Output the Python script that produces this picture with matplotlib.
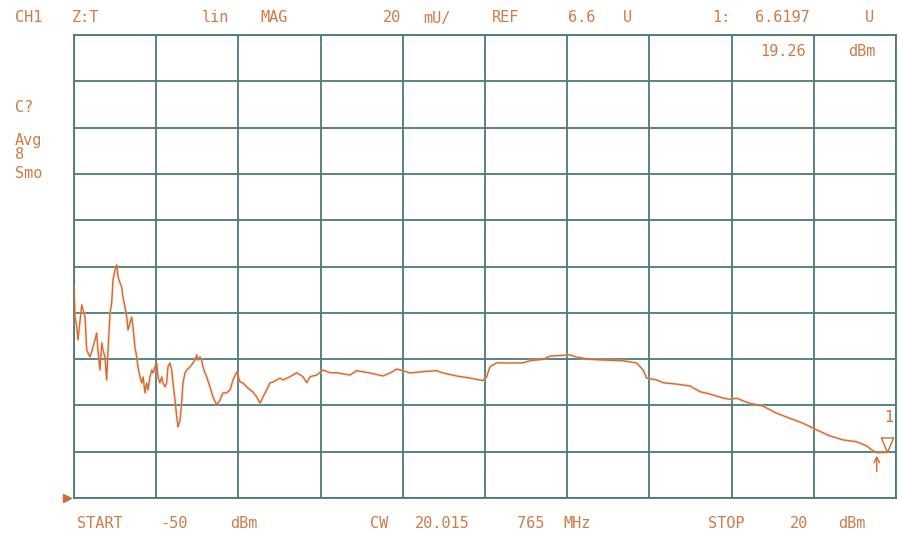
import matplotlib
matplotlib.use("Agg")
import matplotlib.pyplot as plt
from matplotlib import transforms

# CH1 swept-power trace: input power (dBm) vs linear magnitude (U)
power_dbm = [
    -50.00, -49.91, -49.77, -49.66, -49.34, -49.23, -49.06, -48.92, -48.64, -48.38,
    -48.21, -48.07, -47.96, -47.79, -47.64, -47.53, -47.36, -47.22, -47.10, -46.93,
    -46.79, -46.68, -46.51, -46.36, -46.25, -46.08, -45.94, -45.83, -45.66, -45.51,
    -45.40, -45.23, -45.09, -44.98, -44.81, -44.66, -44.55, -44.38, -44.23, -44.12,
    -43.95, -43.81, -43.70, -43.53, -43.38, -43.27, -43.10, -42.96, -42.85, -42.68,
    -42.53, -42.42, -42.25, -42.11, -42.00, -41.83, -41.68, -41.57, -41.40, -41.25,
    -41.14, -40.97, -40.83, -40.72, -40.55, -40.40, -40.12, -39.87, -39.70, -39.55,
    -39.44, -39.27, -39.13, -39.01, -38.84, -38.70, -38.42, -38.16, -37.85, -37.57,
    -37.31, -37.00, -36.71, -36.46, -36.14, -35.86, -35.61, -35.29, -35.01, -34.76,
    -34.44, -34.16, -33.91, -33.59, -33.31, -33.05, -32.74, -32.46, -32.20, -31.61,
    -31.03, -30.50, -30.18, -29.90, -29.33, -28.80, -28.20, -27.63, -26.50, -25.93,
    -24.79, -23.69, -23.09, -22.52, -21.98, -21.39, -20.28, -19.11, -18.58, -17.41,
    -16.28, -15.17, -14.86, -14.58, -14.00, -12.87, -11.76, -11.17, -10.06, -9.46,
    -7.76, -7.19, -6.06, -4.95, -3.25, -2.08, -1.54, -1.23, -0.38, 0.16,
    1.32, 2.46, 3.31, 4.16, 5.27, 5.86, 6.43, 6.97, 7.56, 8.67,
    9.84, 10.97, 12.08, 13.25, 14.38, 15.49, 16.65, 17.50, 18.04, 18.36,
    19.26,
]
mag_u = [
    6.6912, 6.6782, 6.6739, 6.6683, 6.6834, 6.6812, 6.6782, 6.6639, 6.6609, 6.6652,
    6.6683, 6.6713, 6.6639, 6.6553, 6.6670, 6.6639, 6.6609, 6.6510, 6.6639, 6.6799,
    6.6842, 6.6942, 6.6985, 6.7007, 6.6955, 6.6929, 6.6912, 6.6868, 6.6825, 6.6782,
    6.6726, 6.6756, 6.6782, 6.6739, 6.6652, 6.6609, 6.6566, 6.6523, 6.6497, 6.6523,
    6.6454, 6.6497, 6.6467, 6.6523, 6.6553, 6.6540, 6.6566, 6.6583, 6.6523, 6.6497,
    6.6523, 6.6497, 6.6480, 6.6497, 6.6566, 6.6583, 6.6553, 6.6497, 6.6423, 6.6350,
    6.6307, 6.6337, 6.6410, 6.6497, 6.6540, 6.6553, 6.6566, 6.6583, 6.6596, 6.6618,
    6.6596, 6.6609, 6.6596, 6.6566, 6.6540, 6.6523, 6.6480, 6.6436, 6.6402, 6.6423,
    6.6454, 6.6454, 6.6467, 6.6510, 6.6544, 6.6501, 6.6497, 6.6480, 6.6467, 6.6458,
    6.6436, 6.6410, 6.6436, 6.6467, 6.6497, 6.6501, 6.6510, 6.6518, 6.6510, 6.6524,
    6.6541, 6.6524, 6.6498, 6.6524, 6.6531, 6.6553, 6.6541, 6.6541, 6.6531, 6.6550,
    6.6540, 6.6527, 6.6540, 6.6557, 6.6550, 6.6540, 6.6546, 6.6550, 6.6540, 6.6527,
    6.6518, 6.6507, 6.6524, 6.6567, 6.6584, 6.6583, 6.6584, 6.6593, 6.6599, 6.6613,
    6.6618, 6.6608, 6.6599, 6.6596, 6.6593, 6.6583, 6.6553, 6.6518, 6.6510, 6.6498,
    6.6492, 6.6484, 6.6459, 6.6449, 6.6432, 6.6426, 6.6431, 6.6420, 6.6409, 6.6397,
    6.6366, 6.6344, 6.6323, 6.6294, 6.6268, 6.6251, 6.6243, 6.6225, 6.6204, 6.6196,
    6.6197,
]

start_dbm, stop_dbm = -50, 20
ref_u, scale_u = 6.6, 0.02      # 20 mU/div, reference line at the bottom
n_div = 10
marker_dbm, marker_u = 19.26, 6.6197
arrow_dbm = 18.36

W, H = 899, 535
grid_col = "#4b7a79"
trace_col = "#cf6a33"
text_col = "#cf7b47"

fig = plt.figure(figsize=(W / 100, H / 100), dpi=100)
fig.patch.set_facecolor("white")
ax = fig.add_axes([74 / W, 1 - 498 / H, 822 / W, 463 / H])

ax.set_xlim(start_dbm, stop_dbm)
ax.set_ylim(ref_u, ref_u + n_div * scale_u)
ax.set_xticks([start_dbm + i * (stop_dbm - start_dbm) / n_div for i in range(n_div + 1)])
ax.set_yticks([ref_u + i * scale_u for i in range(n_div + 1)])
ax.tick_params(length=0, labelbottom=False, labelleft=False)
ax.grid(True, color=grid_col, linewidth=1.3)
for sp in ax.spines.values():
    sp.set_color(grid_col)
    sp.set_linewidth(1.3)

# faint glow under the trace, then the trace itself
ax.plot(power_dbm, mag_u, color="#f3c4a4", linewidth=2.6, alpha=0.3, zorder=3)
ax.plot(power_dbm, mag_u, color=trace_col, linewidth=1.0, zorder=3)

# marker 1: open triangle sitting on the trace, number above it
tri = [(0, 0), (-0.55, 1.3), (0.55, 1.3), (0, 0)]
ax.plot([marker_dbm], [marker_u], marker=tri, markersize=21, markerfacecolor="none",
        markeredgecolor=trace_col, markeredgewidth=1.0, clip_on=False, zorder=4)
ax.annotate("1", (marker_dbm, marker_u), xytext=(1, 20), textcoords="offset points",
            ha="center", va="bottom", fontsize=11, color=trace_col,
            family="DejaVu Sans Mono", annotation_clip=False)
ax.annotate("", xy=(arrow_dbm, marker_u - 0.0002), xytext=(arrow_dbm, marker_u - 0.0095),
            arrowprops=dict(arrowstyle="->", color=trace_col, lw=1.0))

# reference position pointer on the left edge
ref_tr = transforms.blended_transform_factory(ax.transAxes, ax.transData)
ax.plot([-0.009], [ref_u], marker=">", markersize=6, color=trace_col,
        transform=ref_tr, clip_on=False)


def screen_text(x, y, s):
    fig.text(x / W, 1 - y / H, s, ha="left", va="center", fontsize=11,
             color=text_col, family="DejaVu Sans Mono")


# annotation line above the graticule
screen_text(15, 18, "CH1")
screen_text(72, 18, "Z:T")
screen_text(202, 18, "lin")
screen_text(260, 18, "MAG")
screen_text(383, 18, "20")
screen_text(423, 18, "mU/")
screen_text(492, 18, "REF")
screen_text(568, 18, "6.6")
screen_text(623, 18, "U")
screen_text(712, 18, "1:")
screen_text(755, 18, "6.6197")
screen_text(865, 18, "U")
screen_text(760, 51, "19.26")
screen_text(848, 51, "dBm")

# status column
screen_text(15, 107, "C?")
screen_text(15, 141, "Avg")
screen_text(15, 155, "8")
screen_text(15, 174, "Smo")

# sweep settings below the graticule
screen_text(77, 524, "START")
screen_text(160, 524, "-50")
screen_text(230, 524, "dBm")
screen_text(370, 524, "CW")
screen_text(415, 524, "20.015")
screen_text(517, 524, "765")
screen_text(563, 524, "MHz")
screen_text(708, 524, "STOP")
screen_text(790, 524, "20")
screen_text(838, 524, "dBm")

fig.savefig("out.png", dpi=100)
